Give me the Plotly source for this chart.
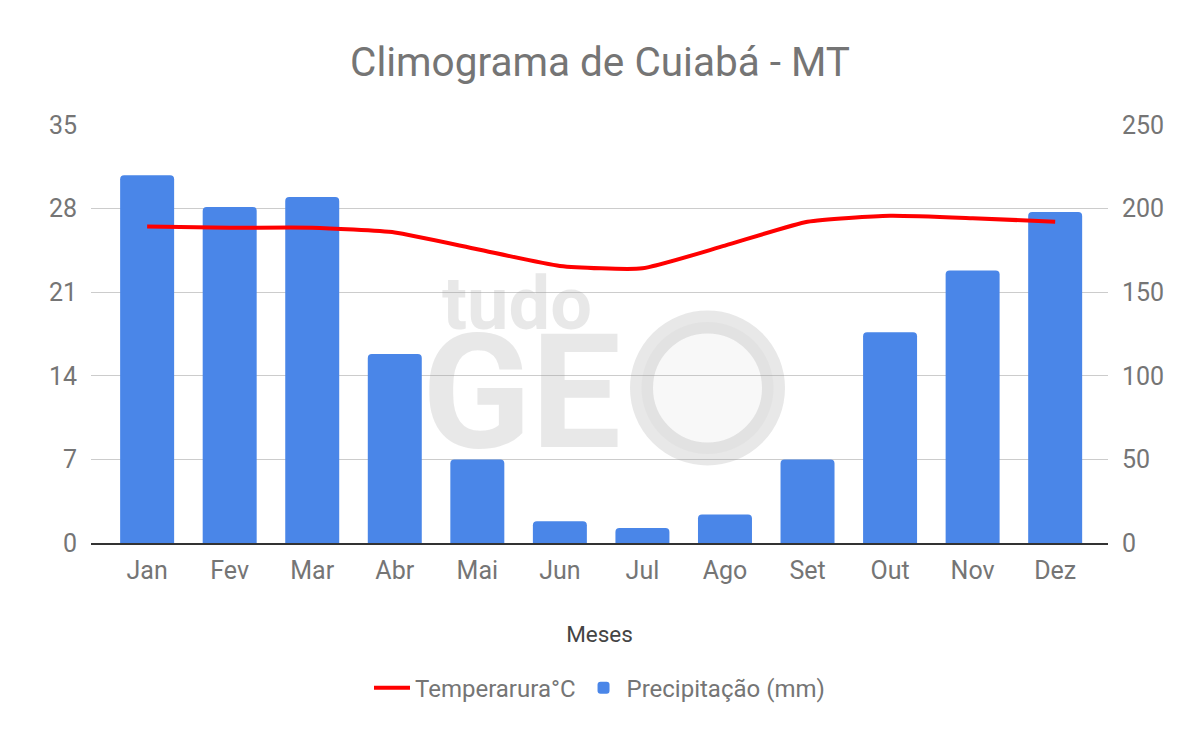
import plotly.graph_objects as go

months = ["Jan", "Fev", "Mar", "Abr", "Mai", "Jun", "Jul", "Ago", "Set", "Out", "Nov", "Dez"]
precip_mm = [220, 201, 207, 113, 50, 13, 9, 17, 50, 126, 163, 198]
temp_c = [26.5, 26.4, 26.4, 26.0, 24.6, 23.2, 23.0, 24.9, 26.9, 27.4, 27.2, 26.9]
temp_ticks = [0, 7, 14, 21, 28, 35]
precip_ticks = [0, 50, 100, 150, 200, 250]

FONT = "Roboto"
GREY = "#757575"
WM = "rgba(150,150,150,0.22)"

# plot area in page pixels (page has an 8px body offset)
PX0, PX1, PY0, PY1 = 91, 1108, 125, 543


def px(x):
    return (x - PX0) / (PX1 - PX0)


def py(y):
    return (PY1 - y) / (PY1 - PY0)


fig = go.Figure()
fig.add_trace(go.Bar(
    x=months, y=precip_mm, name="Precipitação (mm)",
    marker=dict(color="#4a86e8", cornerradius=4, line=dict(width=0)),
    yaxis="y", legendrank=2,
))
fig.add_trace(go.Scatter(
    x=months, y=temp_c, name="Temperarura°C", mode="lines",
    line=dict(color="#ff0000", width=4, shape="spline", smoothing=0.5),
    yaxis="y2", legendrank=1,
))

fig.update_layout(
    width=1200, height=742,
    paper_bgcolor="white", plot_bgcolor="white",
    margin=dict(l=83, r=100, t=117, b=207),
    font=dict(family=FONT, size=25, color=GREY),
    title=dict(text="Climograma de Cuiabá - MT", x=(600 - 8) / 1200, xanchor="center",
               y=1 - 54 / 742, yanchor="middle", yref="container",
               font=dict(family=FONT, size=40.5, color=GREY)),
    bargap=0.346,
    showlegend=True,
    legend=dict(orientation="h", x=0.5, xanchor="center", y=-0.347, yanchor="middle",
                font=dict(family=FONT, size=24, color=GREY), itemwidth=36,
                bgcolor="rgba(0,0,0,0)"),
    xaxis=dict(range=[-0.68, 11.64], showgrid=False, showline=True, linecolor="#333333",
               linewidth=1.5, ticks="outside", ticklen=4, tickcolor="rgba(0,0,0,0)",
               tickfont=dict(family=FONT, size=25, color=GREY),
               title=dict(text="Meses", standoff=42, font=dict(family=FONT, size=22.5, color="#444444"))),
    yaxis=dict(side="right", range=[0, 250], tickvals=precip_ticks, showgrid=True,
               gridcolor="#cccccc", gridwidth=1.3, zeroline=False, showline=False,
               ticks="outside", ticklen=8, tickcolor="rgba(0,0,0,0)",
               tickfont=dict(family=FONT, size=25, color=GREY)),
    yaxis2=dict(side="left", overlaying="y", range=[0, 35], tickvals=temp_ticks,
                showgrid=False, zeroline=False, showline=False,
                ticks="outside", ticklen=8, tickcolor="rgba(0,0,0,0)",
                tickfont=dict(family=FONT, size=25, color=GREY)),
)

# faint "tudo GEO" watermark (boxes trimmed to the glyphs so they do not collide)
fig.add_annotation(text="<b>tudo</b>", xref="paper", yref="paper",
                   x=px(440), xanchor="left", y=py(303), yanchor="middle",
                   height=62, valign="middle",
                   showarrow=False, font=dict(family=FONT, size=74, color=WM))
fig.add_annotation(text="<b>GE</b>", xref="paper", yref="paper",
                   x=px(420), xanchor="left", y=py(392), yanchor="middle",
                   height=124, valign="middle",
                   showarrow=False, font=dict(family=FONT, size=160, color=WM))
cx, cy, r = 707.5, 388, 66
fig.add_shape(type="circle", xref="paper", yref="paper",
              x0=px(cx - r), x1=px(cx + r), y0=py(cy + r), y1=py(cy - r),
              line=dict(color=WM, width=23), fillcolor="rgba(150,150,150,0.07)",
              layer="above")

fig.write_html("out.html")
